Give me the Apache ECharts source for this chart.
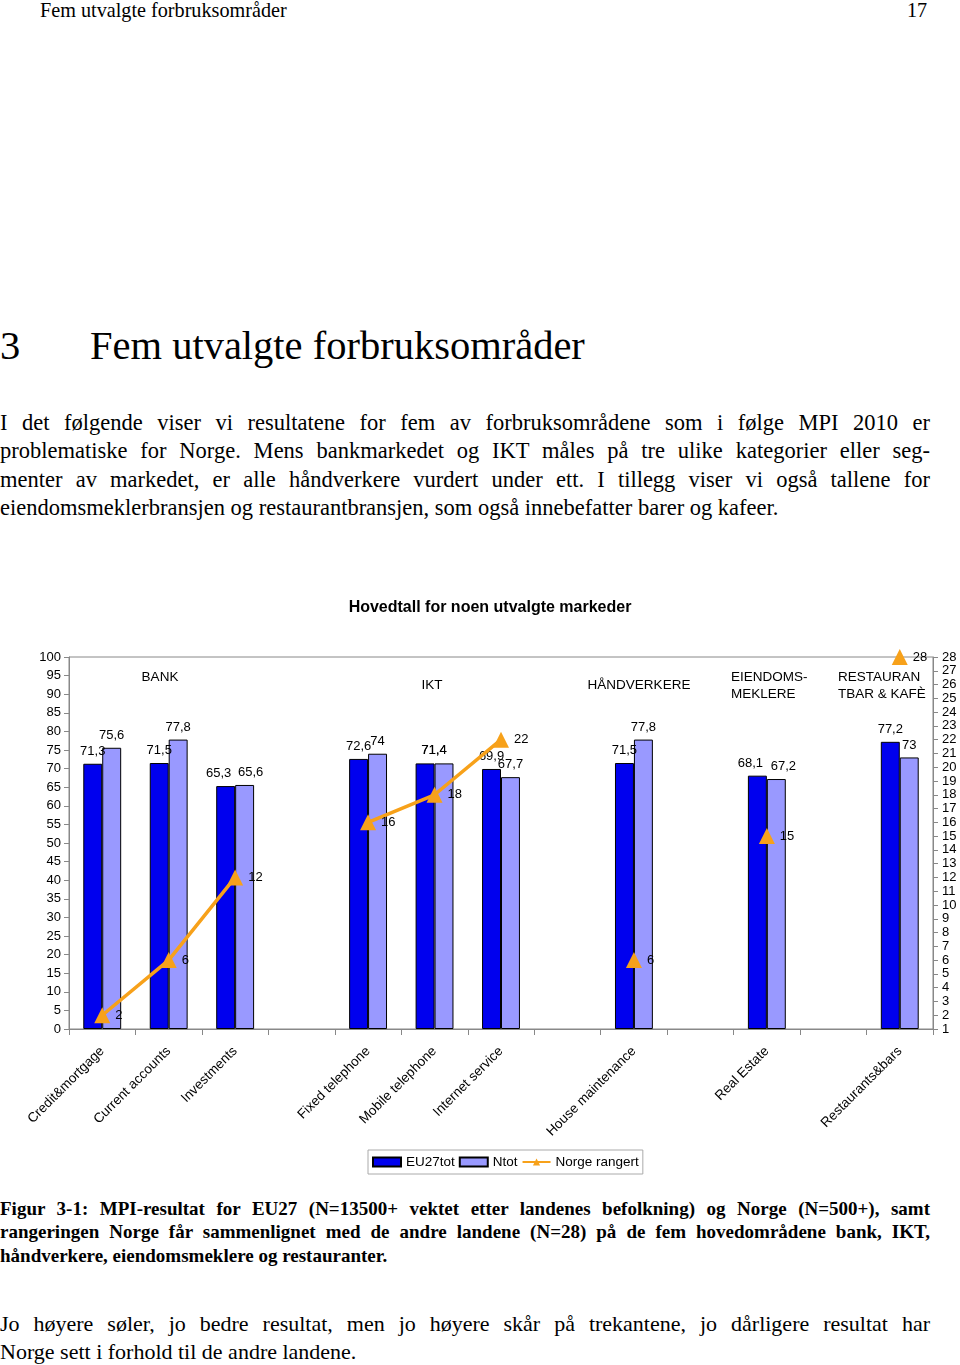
<!DOCTYPE html>
<html><head><meta charset="utf-8">
<script src="https://cdn.jsdelivr.net/npm/echarts@6/dist/echarts.min.js"></script>
<style>
body{margin:0;background:#fff;width:960px;height:1365px;position:relative;overflow:hidden;font-family:"Liberation Serif","Times New Roman",serif;color:#000}
.t{position:absolute;white-space:nowrap}
.j{position:absolute;left:0;width:930px;text-align:justify;text-align-last:justify;white-space:nowrap}
#chart{position:absolute;left:0;top:580px;width:960px;height:610px}
</style></head><body>
<div class="t" style="left:40px;top:-2px;font-size:20.2px;line-height:24px">Fem utvalgte forbruksområder</div>
<div class="t" style="left:907px;top:-2px;font-size:20.2px;line-height:24px">17</div>
<div class="t" style="left:0;top:322px;font-size:40.5px;line-height:48px">3</div>
<div class="t" style="left:90px;top:322px;font-size:40.5px;line-height:48px">Fem utvalgte forbruksområder</div>
<div class="j" style="top:409px;font-size:22.5px;line-height:28px">I det følgende viser vi resultatene for fem av forbruksområdene som i følge MPI 2010 er</div>
<div class="j" style="top:437px;font-size:22.5px;line-height:28px">problematiske for Norge. Mens bankmarkedet og IKT måles på tre ulike kategorier eller seg-</div>
<div class="j" style="top:466px;font-size:22.5px;line-height:28px">menter av markedet, er alle håndverkere vurdert under ett. I tillegg viser vi også tallene for</div>
<div class="t" style="left:0;top:494px;font-size:22.5px;line-height:28px">eiendomsmeklerbransjen og restaurantbransjen, som også innebefatter barer og kafeer.</div>
<div id="chart"></div>
<div class="j" style="top:1197px;font-size:19px;line-height:24px;font-weight:bold">Figur 3-1: MPI-resultat for EU27 (N=13500+ vektet etter landenes befolkning) og Norge (N=500+), samt</div>
<div class="j" style="top:1220px;font-size:19px;line-height:24px;font-weight:bold">rangeringen Norge får sammenlignet med de andre landene (N=28) på de fem hovedområdene bank, IKT,</div>
<div class="t" style="left:0;top:1244px;font-size:19px;line-height:24px;font-weight:bold">håndverkere, eiendomsmeklere og restauranter.</div>
<div class="j" style="top:1310px;font-size:22px;line-height:28px">Jo høyere søler, jo bedre resultat, men jo høyere skår på trekantene, jo dårligere resultat har</div>
<div class="t" style="left:0;top:1338px;font-size:22px;line-height:28px">Norge sett i forhold til de andre landene.</div>
<script>
const categories = ['Credit&mortgage','Current accounts','Investments','','Fixed telephone','Mobile telephone','Internet service','','House maintenance','','Real Estate','','Restaurants&bars'];
const eu27tot = [71.3, 71.5, 65.3, null, 72.6, 71.4, 69.9, null, 71.5, null, 68.1, null, 77.2];
const ntot = [75.6, 77.8, 65.6, null, 74, 71.4, 67.7, null, 77.8, null, 67.2, null, 73];
const norgeRangert = [2, 6, 12, null, 16, 18, 22, null, 6, null, 15, null, 28];
const groupLabels = ['BANK','IKT','HÅNDVERKERE','EIENDOMS-\nMEKLERE','RESTAURAN\nTBAR & KAFÈ'];

// label placement tweaks (styling only, px)
const euLabelShift = [0, 0, -7, 0, 0, 9, 0, 0, 0, 0, -7, 0, 0];
const nLabelShift  = [0, 0, 6, 0, 0, -10, 0, 0, 0, 0, 7, 0, 0];

const font = '"Liberation Sans", Arial, sans-serif';
const chart = echarts.init(document.getElementById('chart'));
const comma = p => p.value == null ? '' : String(p.value).replace('.', ',');
const gtxt = (text, x, y, align) => ({type:'text', x:x, y:y, style:{text, font:'13.5px ' + font, fill:'#000', align:align||'left', verticalAlign:'top', lineHeight:17}});
const withShift = (arr, shift) => arr.map((v, i) => ({value:v, label:{offset:[shift[i], 0]}}));
chart.setOption({
  animation:false,
  textStyle:{fontFamily:font},
  title:{text:'Hovedtall for noen utvalgte markeder', left:485, textAlign:'center', top:15, textStyle:{fontSize:16, fontWeight:'bold', color:'#000', fontFamily:font}},
  grid:{left:69, right:27, top:77, bottom:161, show:true, borderColor:'#888', borderWidth:1},
  legend:{left:368, top:570, padding:[5,4], itemGap:4, itemWidth:28, itemHeight:9, borderColor:'#aaa', borderWidth:1,
    textStyle:{fontSize:13.5, color:'#000', fontFamily:font},
    data:[{name:'EU27tot', icon:'rect'},{name:'Ntot', icon:'rect'},{name:'Norge rangert'}]},
  xAxis:{type:'category', data:categories, boundaryGap:true,
    axisLine:{lineStyle:{color:'#888'}}, axisTick:{show:true, interval:0, length:6, lineStyle:{color:'#888'}},
    axisLabel:{interval:0, rotate:45, fontSize:13.5, color:'#000', margin:20, fontFamily:font}},
  yAxis:[
    {type:'value', min:0, max:100, interval:5, axisLine:{show:true, lineStyle:{color:'#888'}}, axisTick:{show:true, length:5, lineStyle:{color:'#888'}},
      splitLine:{show:false}, axisLabel:{fontSize:13, color:'#000', margin:8, fontFamily:font}},
    {type:'value', min:1, max:28, interval:1, position:'right', axisLine:{show:true, lineStyle:{color:'#888'}}, axisTick:{show:true, length:5, lineStyle:{color:'#888'}},
      splitLine:{show:false}, axisLabel:{fontSize:13, color:'#000', margin:9, fontFamily:font}}
  ],
  series:[
    {name:'EU27tot', type:'bar', data:withShift(eu27tot, euLabelShift), barGap:'0%', barCategoryGap:'43%',
      itemStyle:{color:'#0000EE', borderColor:'#000', borderWidth:1},
      label:{show:true, position:'top', distance:6, formatter:comma, fontSize:13, color:'#000', fontFamily:font}},
    {name:'Ntot', type:'bar', data:withShift(ntot, nLabelShift),
      itemStyle:{color:'#9999FF', borderColor:'#000', borderWidth:1},
      label:{show:true, position:'top', distance:6, formatter:comma, fontSize:13, color:'#000', fontFamily:font}},
    {name:'Norge rangert', type:'line', yAxisIndex:1, data:norgeRangert, connectNulls:false,
      symbol:'triangle', symbolSize:16, lineStyle:{color:'#F7A11A', width:3.5}, itemStyle:{color:'#F7A11A'},
      label:{show:true, position:'right', distance:5, fontSize:13, color:'#000', fontFamily:font}, z:5}
  ],
  graphic:[
    gtxt(groupLabels[0], 160, 89, 'center'),
    gtxt(groupLabels[1], 432, 97, 'center'),
    gtxt(groupLabels[2], 639, 97, 'center'),
    gtxt(groupLabels[3], 731, 89),
    gtxt(groupLabels[4], 838, 89)
  ]
});
</script>
</body></html>
